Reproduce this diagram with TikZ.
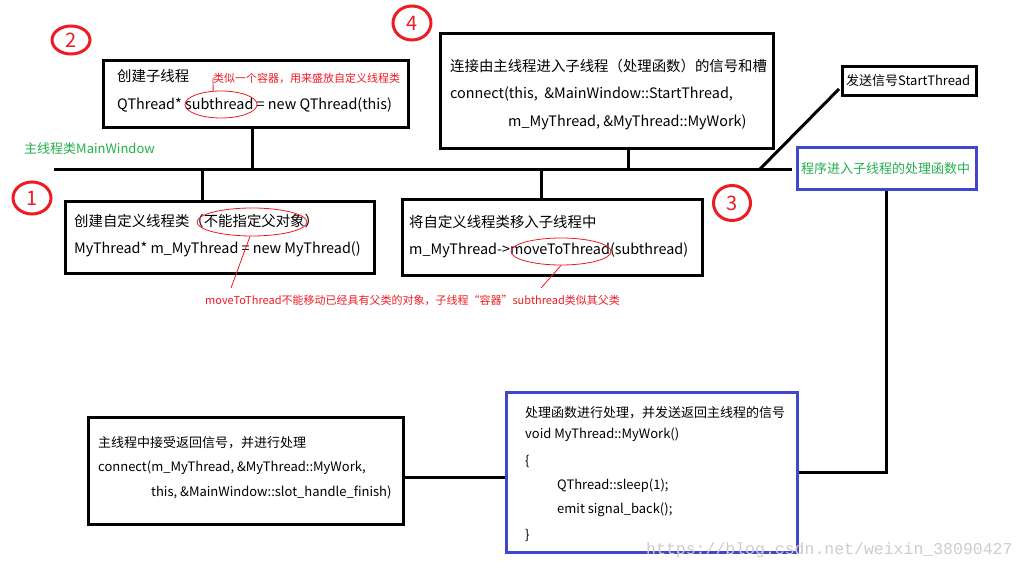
\documentclass[tikz,border=0pt]{standalone}
\usepackage{fontspec}
\setmainfont{Noto Sans CJK SC}
\newfontfamily\wmfont{Liberation Mono}
\usetikzlibrary{shapes.geometric,calc}
\definecolor{pred}{RGB}{237,28,36}
\definecolor{pgreen}{RGB}{34,177,76}
\definecolor{pblue}{RGB}{63,72,204}
\definecolor{wmgray}{RGB}{205,205,205}
\begin{document}
\begin{tikzpicture}[x=1pt,y=-1pt,
  box/.style={draw=black,line width=3pt,inner sep=0pt},
  bbox/.style={draw=pblue,line width=3pt,inner sep=0pt},
  conn/.style={line width=3pt},
  txt/.style={anchor=west,inner sep=0pt,font=\fontsize{14.4}{16}\selectfont},
  stxt/.style={anchor=west,inner sep=0pt,font=\fontsize{13}{15}\selectfont},
  num/.style={ellipse,draw=pred,line width=3pt,text=pred,inner sep=0pt,font=\fontsize{20}{22}\selectfont},
  hl/.style={ellipse,draw=pred,line width=0.8pt,inner sep=0pt},
  note/.style={anchor=west,inner sep=0pt,text=pred,font=\fontsize{11}{13}\selectfont},
  ann/.style={draw=pred,line width=0.8pt}]
\useasboundingbox[fill=white] (0,0) rectangle (1028,570);

% main thread line
\coordinate (ml) at (54,169);
\coordinate (mr) at (792,169);
\draw[conn] (ml) -- (mr);
\node[stxt,text=pgreen] (mwlabel) at (24,149) {主线程类MainWindow};

% numbered circles
\node[num,minimum width=38pt,minimum height=28pt] (c2) at (71,40) {2};
\node[num,minimum width=38pt,minimum height=34pt] (c4) at (412,23) {4};
\node[num,minimum width=38pt,minimum height=32pt] (c1) at (32,198) {1};
\node[num,minimum width=37pt,minimum height=35pt] (c3) at (732,203) {3};

% box 2
\node[box,minimum width=305pt,minimum height=67pt] (b2) at (255.5,93.5) {};
\node[txt] (b2t1) at (117,76) {创建子线程};
\node[txt] (b2t2) at (117,105) {QThread* subthread = new QThread(this)};
\draw[conn] (b2.south -| 252,0) -- (ml -| 252,0);

% box 4
\node[box,minimum width=333pt,minimum height=115pt] (b4) at (606.5,90.5) {};
\node[txt] (b4t1) at (450,66) {连接由主线程进入子线程（处理函数）的信号和槽};
\node[txt] (b4t2) at (450,94) {connect(this,\ \ \&MainWindow::StartThread,};
\node[txt] (b4t3) at (508,122) {m\_MyThread, \&MyThread::MyWork)};
\draw[conn] (b4.south -| 628,0) -- (ml -| 628,0);

% box 1
\node[box,minimum width=309pt,minimum height=72pt] (b1) at (219.5,237) {};
\node[txt] (b1t1) at (74,221) {创建自定义线程类（不能指定父对象）};
\node[txt] (b1t2) at (74,249) {MyThread* m\_MyThread = new MyThread()};
\draw[conn] (ml -| 202,0) -- (b1.north -| 202,0);

% box 3
\node[box,minimum width=300pt,minimum height=76pt] (b3) at (552,237) {};
\node[txt] (b3t1) at (409,222) {将自定义线程类移入子线程中};
\node[txt] (b3t2) at (409,250) {m\_MyThread->moveToThread(subthread)};
\draw[conn] (ml -| 541,0) -- (b3.north -| 541,0);

% signal box
\node[box,minimum width=134pt,minimum height=29pt] (bsig) at (909,80.5) {};
\node[stxt] (bsigt) at (846,81) {发送信号StartThread};
\coordinate (d0) at (760,169);
\coordinate (d1) at (839,89);
\draw[conn] (d0) -- (d1);

% program enters thread box
\node[bbox,minimum width=179pt,minimum height=42pt] (bprog) at (886.5,168) {};
\node[stxt,text=pgreen] (bprogt) at (801,169) {程序进入子线程的处理函数中};

% work box
\node[bbox,minimum width=291pt,minimum height=160pt] (bwork) at (651.5,472) {};
\node[stxt] (bw1) at (525,413) {处理函数进行处理，并发送返回主线程的信号};
\node[stxt] (bw2) at (525,435) {void MyThread::MyWork()};
\node[stxt] (bw3) at (525,461) {\{};
\node[stxt] (bw4) at (557,486) {QThread::sleep(1);};
\node[stxt] (bw5) at (557,510) {emit signal\_back();};
\node[stxt] (bw6) at (525,535) {\}};
\draw[conn] (bwork.east) -| (bprog.south);

% main receive box
\node[box,minimum width=315pt,minimum height=107pt] (bmain) at (245.5,470.5) {};
\node[stxt] (bm1) at (98,443) {主线程中接受返回信号，并进行处理};
\node[stxt] (bm2) at (98,468) {connect(m\_MyThread, \&MyThread::MyWork,};
\node[stxt] (bm3) at (151,492) {this, \&MainWindow::slot\_handle\_finish)};
\draw[conn] (bmain.east |- 0,477) -- (bwork.west |- 0,477);

% red annotations
\node[hl,minimum width=72pt,minimum height=27pt] (hl1) at (221,104.5) {};
\node[note] (n1) at (213,78) {类似一个容器，用来盛放自定义线程类};
\draw[ann] (hl1.120) -- (n1.west);

\node[hl,minimum width=110pt,minimum height=28pt] (hl2) at (252,222) {};
\node[hl,minimum width=100pt,minimum height=27pt] (hl3) at (561,251.5) {};
\node[note] (n2) at (205,300) {moveToThread不能移动已经具有父类的对象，子线程“容器”subthread类似其父类};
\coordinate (a2) at (231,288);
\coordinate (a3) at (541,288);
\draw[ann] (hl2.262) -- (a2);
\draw[ann] (hl3.south) -- (a3);

% watermark
\node[anchor=west,inner sep=0pt,text=wmgray,font=\wmfont\fontsize{16.5}{18}\selectfont] (wm) at (646,550) {https://blog.csdn.net/weixin\_38090427};
\end{tikzpicture}
\end{document}
